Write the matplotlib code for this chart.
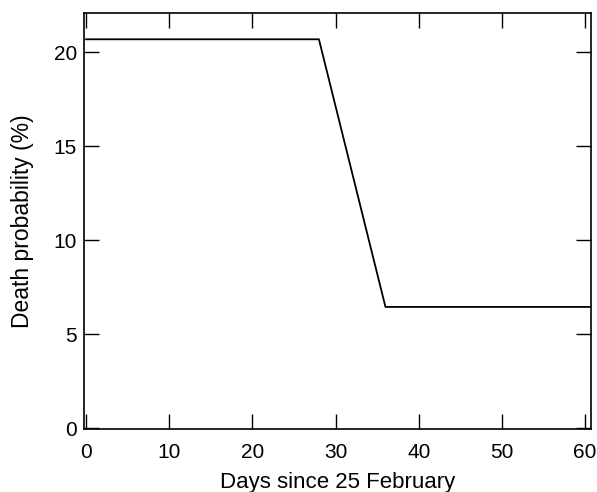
import matplotlib
matplotlib.use("Agg")
import matplotlib.pyplot as plt

# Death probability over time
days = [0, 28, 36, 60.7]
death_prob = [20.7, 20.7, 6.45, 6.45]

x_ticks = [0, 10, 20, 30, 40, 50, 60]
y_ticks = [0, 5, 10, 15, 20]

plt.rcParams["font.family"] = ["Liberation Sans", "DejaVu Sans"]

fig = plt.figure(figsize=(5.97, 4.92), dpi=100)
ax = fig.add_axes([0.1407, 0.128, 0.849, 0.8456])

ax.plot(days, death_prob, color="black", linewidth=1.3)

ax.set_xlim(-0.25, 60.7)
ax.set_ylim(-0.05, 22.1)
ax.set_xticks(x_ticks)
ax.set_yticks(y_ticks)
ax.tick_params(direction="in", length=11, width=1, labelsize=15,
               top=True, right=True)
ax.tick_params(axis="x", pad=10)
ax.tick_params(axis="y", pad=5)
for s in ax.spines.values():
    s.set_linewidth(1.2)

ax.set_xlabel("Days since 25 February", fontsize=16, labelpad=7)
ax.set_ylabel("Death probability (%)", fontsize=16.5, labelpad=14)

fig.savefig("out.png", dpi=100)
